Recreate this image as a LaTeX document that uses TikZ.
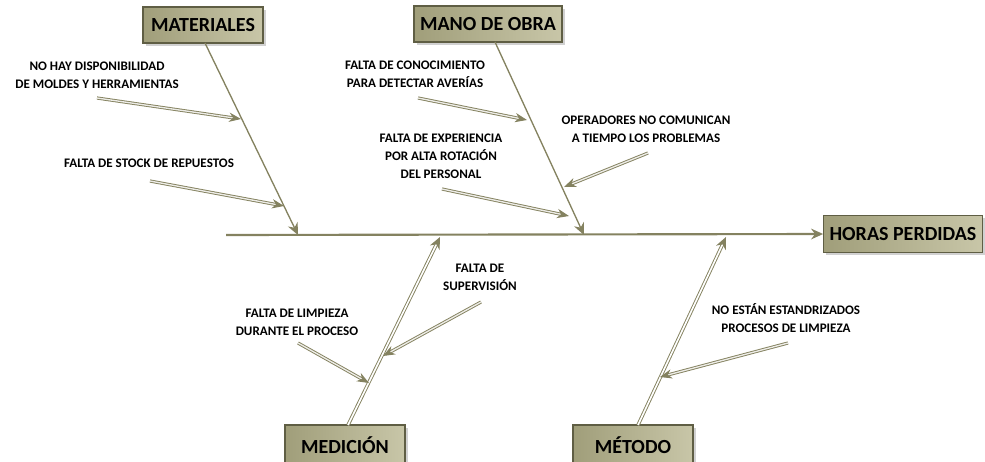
\documentclass[tikz,border=0pt]{standalone}
\usepackage{fontspec}
\setmainfont{Carlito}
\usetikzlibrary{arrows.meta,shadows}
\definecolor{olive}{RGB}{132,130,96}
\definecolor{boxL}{RGB}{160,158,122}
\definecolor{boxR}{RGB}{200,198,168}
\definecolor{boxB}{RGB}{95,94,68}
\tikzset{
  catbox/.style={draw=boxB, line width=0.8pt, left color=boxL, right color=boxR,
    minimum width=90pt, minimum height=27pt, inner sep=2pt,
    font=\fontsize{15}{17}\selectfont\bfseries,
    drop shadow={shadow xshift=2pt, shadow yshift=-2pt, fill=black!30, opacity=0.6}},
  cause/.style={align=center, font=\fontsize{9.8}{13.5}\selectfont\bfseries, inner sep=0pt},
  spine/.style={draw=olive, line width=1.6pt, -{Stealth[length=9pt,width=8pt]}},
  bone/.style={draw=olive, line width=1pt, -{Stealth[length=9pt,width=8pt]}},
  dbone/.style={draw=olive, line width=0.7pt, double=white, double distance=1.2pt, -{Stealth[length=9pt,width=8pt,fill=olive]}},
  sub/.style={draw=olive, line width=0.7pt, double=white!85!olive, double distance=1pt, -{Stealth[length=9pt,width=7pt,fill=olive]}},
}
\begin{document}
\begin{tikzpicture}[x=0.75pt,y=-0.75pt]
\useasboundingbox (0,0) rectangle (985,461);
% category boxes
\node[catbox] (mat) at (203,25) {MATERIALES};
\node[catbox, minimum width=111pt] (mano) at (488,24) {MANO DE OBRA};
\node[catbox, minimum width=119pt, minimum height=28pt] (horas) at (903,234) {HORAS PERDIDAS};
\node[catbox, minimum height=30pt] (med) at (345,445) {MEDICIÓN};
\node[catbox, minimum height=30pt] (met) at (633,445) {MÉTODO};
% spine
\coordinate (s0) at (226,235);
\draw[spine] (s0) -- (horas.west);
% bone ends on spine
\coordinate (bm) at (298,235);
\coordinate (bo) at (584,235);
\coordinate (bd) at (440,237);
\coordinate (bt) at (726,237);
\coordinate (mats) at (205,43);
\coordinate (manos) at (495,42);
\coordinate (meds) at (348,425);
\coordinate (mets) at (638,425);
\draw[bone] (mats) -- (bm);
\draw[bone] (manos) -- (bo);
\draw[dbone] (meds) -- (bd);
\draw[dbone] (mets) -- (bt);
% causes
\node[cause] (c1) at (97,75) {NO HAY DISPONIBILIDAD\\DE MOLDES Y HERRAMIENTAS};
\node[cause] (c2) at (149,163) {FALTA DE STOCK DE REPUESTOS};
\node[cause] (c3) at (415,74) {FALTA DE CONOCIMIENTO\\PARA DETECTAR AVERÍAS};
\node[cause] (c4) at (646,129) {OPERADORES NO COMUNICAN\\A TIEMPO LOS PROBLEMAS};
\node[cause] (c5) at (441,156) {FALTA DE EXPERIENCIA\\POR ALTA ROTACIÓN\\DEL PERSONAL};
\node[cause] (c6) at (480,277) {FALTA DE\\SUPERVISIÓN};
\node[cause] (c7) at (297,322) {FALTA DE LIMPIEZA\\DURANTE EL PROCESO};
\node[cause] (c8) at (786,318) {NO ESTÁN ESTANDRIZADOS\\PROCESOS DE LIMPIEZA};
% cause arrows
\coordinate (a1s) at (97,98);   \coordinate (a1e) at (241,119);
\coordinate (a2s) at (150,181); \coordinate (a2e) at (284,206);
\coordinate (a3s) at (418,98);  \coordinate (a3e) at (527,120);
\coordinate (a4s) at (648,153); \coordinate (a4e) at (564,187);
\coordinate (a5s) at (442,189); \coordinate (a5e) at (569,216);
\coordinate (a6s) at (481,302); \coordinate (a6e) at (383,356);
\coordinate (a7s) at (298,343); \coordinate (a7e) at (369,383);
\coordinate (a8s) at (788,343); \coordinate (a8e) at (660,377);
\foreach \i in {1,...,8} \draw[sub] (a\i s) -- (a\i e);
\end{tikzpicture}
\end{document}
